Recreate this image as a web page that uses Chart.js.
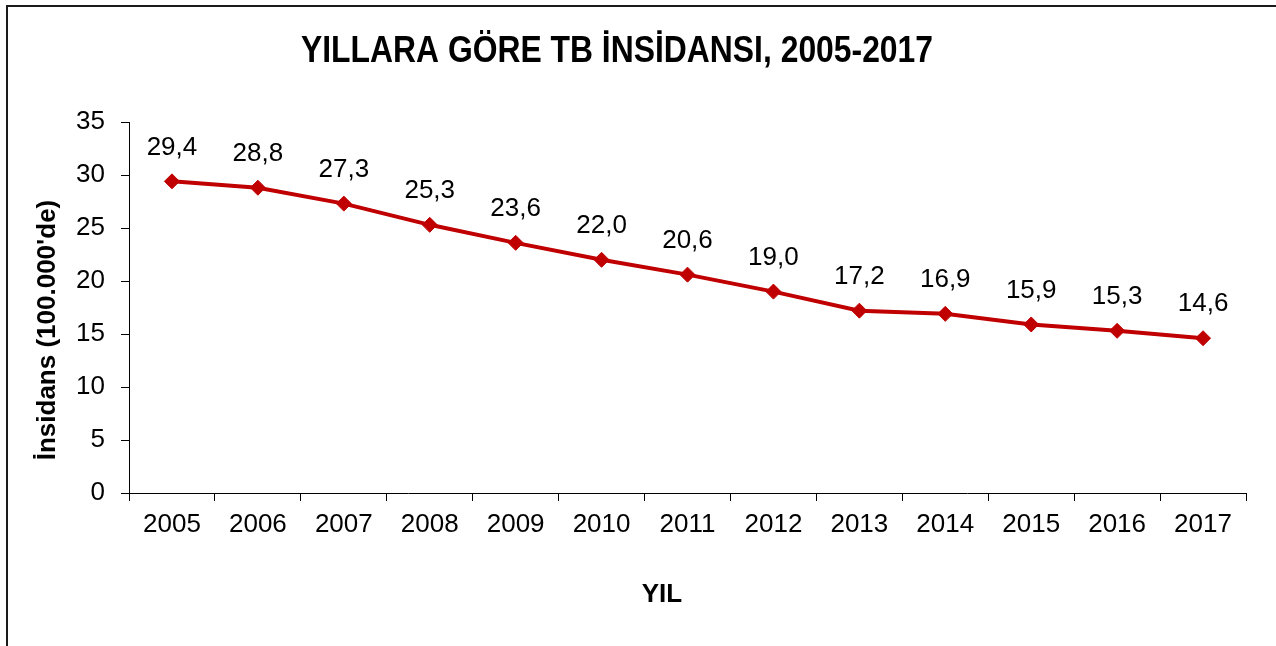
<!DOCTYPE html>
<html>
<head>
<meta charset="utf-8">
<script src="https://cdn.jsdelivr.net/npm/chart.js@4.4.1/dist/chart.umd.min.js"></script>
<style>
  body { margin: 0; background: #fff; }
</style>
</head>
<body>
<canvas id="tbChart" width="1276" height="646"></canvas>
<script>
const years = ["2005", "2006", "2007", "2008", "2009", "2010", "2011", "2012", "2013", "2014", "2015", "2016", "2017"];
const incidence = [29.4, 28.8, 27.3, 25.3, 23.6, 22.0, 20.6, 19.0, 17.2, 16.9, 15.9, 15.3, 14.6];
const yMin = 0;
const yMax = 35;
const yStep = 5;

const chartTitle = "YILLARA GÖRE TB İNSİDANSI, 2005-2017";
const xTitle = "YIL";
const yTitle = "İnsidans (100.000'de)";

const FONT = "'Liberation Sans', Arial, sans-serif";
const RED = "#C00000";

// outer frame (left + top edge visible in the picture)
const framePlugin = {
  id: "frame",
  beforeDraw(chart) {
    const ctx = chart.ctx;
    ctx.save();
    ctx.fillStyle = "#1a1a1a";
    ctx.fillRect(6, 5, 2, chart.height - 5);
    ctx.fillRect(6, 5, chart.width - 6, 2);
    ctx.restore();
  }
};

// main title and axis titles, placed like the original
const textPlugin = {
  id: "texts",
  afterDraw(chart) {
    const ctx = chart.ctx;
    ctx.save();
    ctx.fillStyle = "#000";
    ctx.textAlign = "center";
    ctx.textBaseline = "alphabetic";
    ctx.translate(617, 62);
    ctx.scale(0.885, 1);
    ctx.font = "bold 36px " + FONT;
    ctx.fillText(chartTitle, 0, 0);
    ctx.restore();

    ctx.save();
    ctx.fillStyle = "#000";
    ctx.textAlign = "center";
    ctx.textBaseline = "alphabetic";
    ctx.font = "bold 26px " + FONT;
    ctx.fillText(xTitle, 662, 602);
    ctx.restore();

    ctx.save();
    ctx.fillStyle = "#000";
    ctx.textAlign = "center";
    ctx.textBaseline = "middle";
    ctx.font = "bold 26px " + FONT;
    ctx.translate(48, 330);
    ctx.rotate(-Math.PI / 2);
    ctx.fillText(yTitle, 0, 0);
    ctx.restore();
  }
};

// value labels above each point
const valueLabels = {
  id: "valueLabels",
  afterDatasetsDraw(chart) {
    const ctx = chart.ctx;
    const meta = chart.getDatasetMeta(0);
    ctx.save();
    ctx.fillStyle = "#000";
    ctx.font = "26px " + FONT;
    ctx.textAlign = "center";
    ctx.textBaseline = "middle";
    meta.data.forEach((pt, i) => {
      const txt = incidence[i].toFixed(1).replace(".", ",");
      ctx.fillText(txt, pt.x, pt.y - 34);
    });
    ctx.restore();
  }
};

const ctx = document.getElementById("tbChart").getContext("2d");
new Chart(ctx, {
  type: "line",
  data: {
    labels: years,
    datasets: [{
      data: incidence,
      borderColor: RED,
      backgroundColor: RED,
      borderWidth: 4,
      tension: 0,
      fill: false,
      pointStyle: "rectRot",
      pointRadius: 7.5,
      pointHoverRadius: 7.5,
      pointBorderWidth: 1,
      pointBackgroundColor: RED,
      pointBorderColor: RED
    }]
  },
  options: {
    responsive: false,
    animation: false,
    events: [],
    layout: { padding: { left: 14, right: 30, top: 122, bottom: 0 } },
    plugins: {
      legend: { display: false },
      title: { display: false },
      tooltip: { enabled: false }
    },
    scales: {
      x: {
        offset: true,
        grid: { offset: true, drawOnChartArea: false, color: "#000", tickLength: 8, lineWidth: 1 },
        border: { color: "#000", width: 1 },
        ticks: { color: "#000", font: { family: FONT, size: 26 }, padding: 8, maxRotation: 0, autoSkip: false },
        afterFit(scale) { scale.height = 153; }
      },
      y: {
        min: yMin,
        max: yMax,
        grid: { drawOnChartArea: false, color: "#000", tickLength: 8, lineWidth: 1 },
        border: { color: "#000", width: 1 },
        ticks: { stepSize: yStep, color: "#000", font: { family: FONT, size: 26 }, padding: 16 },
        afterFit(scale) { scale.width = 115; }
      }
    }
  },
  plugins: [framePlugin, textPlugin, valueLabels]
});
</script>
</body>
</html>
